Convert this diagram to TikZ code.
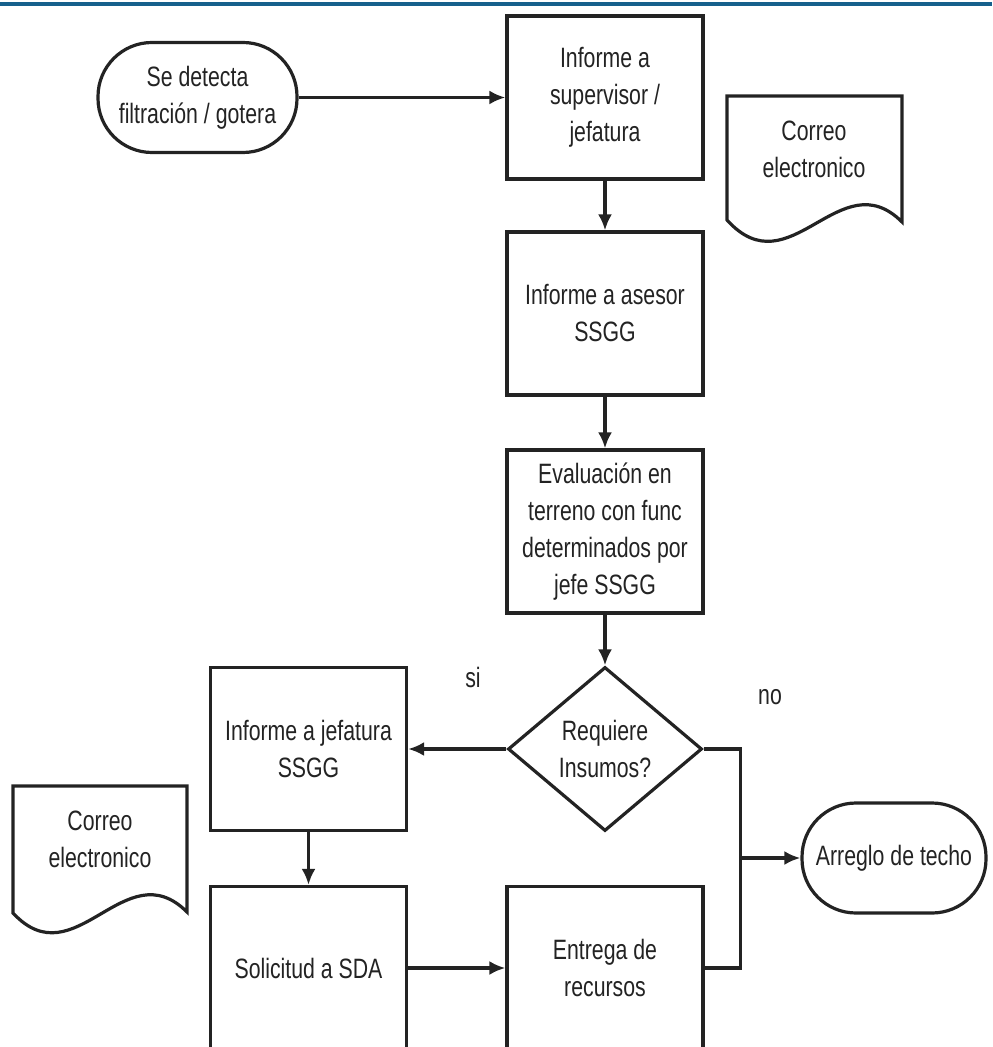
\documentclass[tikz,border=0pt]{standalone}
\usepackage{fontspec}
\setmainfont{Liberation Sans}[FakeStretch=0.76]
\usetikzlibrary{shapes.geometric,arrows.meta,calc}
\definecolor{azul}{RGB}{22,96,140}
\definecolor{tinta}{RGB}{35,35,35}
\tikzset{
    bloque/.style = {
    	draw=tinta,
    	line width=1.6pt,
    	fill=white,
    	minimum width=98pt,
    	minimum height=81.5pt,
    	inner sep=0pt,
    	align=center
    },
    terminal/.style = {
    	draw=tinta,
    	line width=1.6pt,
    	fill=white,
    	rounded corners=27pt,
    	minimum height=55pt,
    	inner sep=0pt,
    	align=center
    },
    decision/.style = {
    	diamond,
    	draw=tinta,
    	line width=1.6pt,
    	fill=white,
    	minimum width=97pt,
    	minimum height=82pt,
    	inner sep=0pt,
    	align=center
    },
    documento/.style = {
    	draw=tinta,
    	line width=1.6pt,
    	fill=white
    },
    linea/.style = {
    	draw=tinta,
    	line width=1.6pt
    },
    conector/.style = {
    	linea,
    	-{Latex[length=8pt,width=7pt]}
    }
}

\begin{document}
\begin{tikzpicture}[x=0.5pt, y=-0.5pt, every node/.append style={font=\fontsize{14}{18.5}\selectfont, text=tinta}]

	\clip (0,0) rectangle (992,1047);

	% Linea superior
	\draw[azul, line width=2pt] (0,4) -- (992,4);

	% Documentos (correo)
	\draw[documento] (727,96) -- (902,96) -- (902,222)
		.. controls (840,160) and (790,290) .. (727,220) -- cycle;
	\node[align=center] (correo1) at (814,149) {Correo\\electronico};

	\draw[documento] (13,786) -- (187,786) -- (187,912)
		.. controls (125,850) and (75,980) .. (13,913) -- cycle;
	\node[align=center] (correo2) at (100,839) {Correo\\electronico};

	% Bloques
	\node[terminal, minimum width=99.5pt] (inicio) at (197.5,97.5) {Se detecta\\filtración / gotera};
	\node[bloque] (supervisor) at (605,97.5) {Informe a\\supervisor /\\jefatura};
	\node[bloque] (asesor) at (605,313.5) {Informe a asesor\\SSGG};
	\node[bloque] (evaluacion) at (605,531.5) {Evaluación en\\terreno con func\\determinados por\\jefe SSGG};
	\node[decision] (insumos) at (605,749) {Requiere\\Insumos?};
	\node[bloque] (jefatura) at (308.5,749) {Informe a jefatura\\SSGG};
	\node[bloque] (solicitud) at (308.5,968) {Solicitud a SDA};
	\node[bloque] (entrega) at (605,968) {Entrega de\\recursos};
	\node[terminal, minimum width=92pt] (arreglo) at (894,858) {Arreglo de techo};

	% Etiquetas
	\node (si) at (473,677) {si};
	\node (no) at (770,697) {no};

	% Conexiones
	\draw[conector] (inicio) -- (supervisor);
	\draw[conector] (supervisor) -- (asesor);
	\draw[conector] (asesor) -- (evaluacion);
	\draw[conector] (evaluacion) -- (insumos);
	\draw[conector] (insumos) -- (jefatura);
	\draw[conector] (jefatura) -- (solicitud);
	\draw[conector] (solicitud) -- (entrega);

	\coordinate (codo) at ($(insumos.east)+(37,0)$);
	\coordinate (union) at (codo |- arreglo.west);
	\draw[linea] (insumos.east) -- (codo) |- (entrega.east);
	\draw[conector] (union) -- (arreglo.west);

\end{tikzpicture}
\end{document}
